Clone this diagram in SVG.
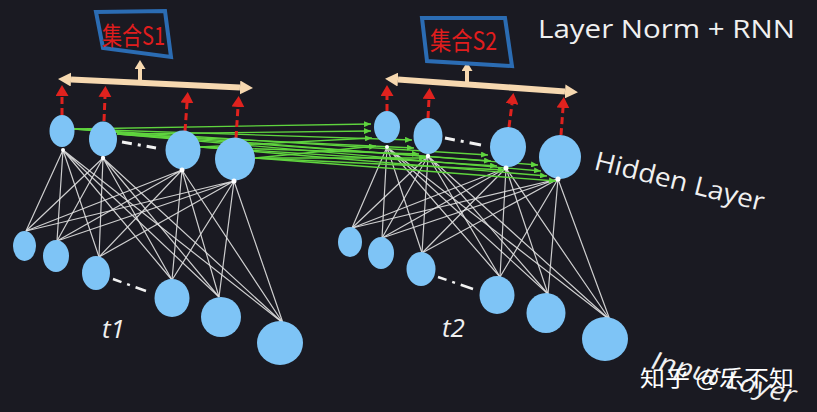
<svg xmlns="http://www.w3.org/2000/svg" width="817" height="412" viewBox="0 0 817 412">
<style>
.node{fill:#7ec4f6}
.w{stroke:#e2e2e2;stroke-width:1.2;fill:none;opacity:.9}
.g{stroke:#5fd43e;stroke-width:1.3;fill:none;marker-end:url(#ga)}
.r{stroke:#e0221e;stroke-width:3;stroke-dasharray:7 4;fill:none;marker-end:url(#ra)}
.bar{stroke:#f6d8b0;stroke-width:6;fill:none;marker-start:url(#ba);marker-end:url(#ba)}
.up{stroke:#f6d8b0;stroke-width:4;fill:none;marker-end:url(#ua)}
.dd{stroke:#f2f2f2;stroke-width:3;fill:none;stroke-dasharray:10 6 3 6 14}
.box{fill:#1a1a22;stroke:#2b6cb3;stroke-width:4}
.cn{font-family:"Noto Sans CJK SC",sans-serif;font-size:25px;fill:#e11d1d}
.lab{font-family:"Open Sans","DejaVu Sans",sans-serif;fill:#f0f0f0}
.dot{fill:#ffffff}
</style>
<defs>
<marker id="ba" markerUnits="userSpaceOnUse" markerWidth="13" markerHeight="14" refX="0" refY="7" orient="auto-start-reverse" viewBox="0 0 13 14"><path d="M0,0 L13,7 L0,14 z" fill="#f6d8b0"/></marker>
<marker id="ua" markerUnits="userSpaceOnUse" markerWidth="9" markerHeight="11" refX="0" refY="5.5" orient="auto" viewBox="0 0 9 11"><path d="M0,0 L9,5.5 L0,11 z" fill="#f6d8b0"/></marker>
<marker id="ra" markerUnits="userSpaceOnUse" markerWidth="11" markerHeight="13" refX="0" refY="6.5" orient="auto" viewBox="0 0 11 13"><path d="M0,0 L11,6.5 L0,13 z" fill="#e0221e"/></marker>
<marker id="ga" markerUnits="userSpaceOnUse" markerWidth="7" markerHeight="6" refX="7" refY="3" orient="auto" viewBox="0 0 7 6"><path d="M0,0 L7,3 L0,6 z" fill="#5fd43e"/></marker>
</defs>
<rect width="817" height="412" fill="#1a1a22"/>

<g id="connectors">
<g>
<path class="w" d="M26,231L63,150M57,241L63,150M99,257L63,150M172,280L63,150M219,297L63,150M283,323L63,150"/>
<path class="w" d="M26,231L103,158M57,241L103,158M99,257L103,158M172,280L103,158M219,297L103,158M283,323L103,158"/>
<path class="w" d="M26,231L182,170M57,241L182,170M99,257L182,170M172,280L182,170M219,297L182,170M283,323L182,170"/>
<path class="w" d="M26,231L234,181M57,241L234,181M99,257L234,181M172,280L234,181M219,297L234,181M283,323L234,181"/>
</g>
<g>
<path class="w" d="M352,228L387,147M382,238L387,147M422,253L387,147M500,277L387,147M548,294L387,147M610,320L387,147"/>
<path class="w" d="M352,228L428,156M382,238L428,156M422,253L428,156M500,277L428,156M548,294L428,156M610,320L428,156"/>
<path class="w" d="M352,228L506,168M382,238L506,168M422,253L506,168M500,277L506,168M548,294L506,168M610,320L506,168"/>
<path class="w" d="M352,228L558,179M382,238L558,179M422,253L558,179M500,277L558,179M548,294L558,179M610,320L558,179"/>
</g>
<g>
<path class="g" d="M74,129L371,124"/><path class="g" d="M74,129L412,140"/><path class="g" d="M74,129L488,155"/><path class="g" d="M74,129L538,165"/>
<path class="g" d="M117,134L371,131"/><path class="g" d="M117,134L414,148"/><path class="g" d="M117,134L491,161"/><path class="g" d="M117,134L541,171"/>
<path class="g" d="M200,147L372,138"/><path class="g" d="M200,147L419,154"/><path class="g" d="M200,147L497,166"/><path class="g" d="M200,147L547,176"/>
<path class="g" d="M255,158L376,146"/><path class="g" d="M255,158L426,158"/><path class="g" d="M255,158L505,170"/><path class="g" d="M255,158L556,181"/>
</g>
<path class="r" d="M62,115L62,96"/>
<path class="r" d="M104,121L105,97"/>
<path class="r" d="M185,131L187,103"/>
<path class="r" d="M236,138L238,107"/>
<path class="r" d="M387,111L387,96"/>
<path class="r" d="M428,118L429,99"/>
<path class="r" d="M509,127L512,104"/>
<path class="r" d="M561,135L563,108"/>
<path class="bar" d="M71,79.5L240,87.5"/>
<path class="up" d="M140,82L140,69"/>
<path class="bar" d="M398,79.6L565,91.4"/>
<path class="up" d="M467,83L467,71"/>
</g>

<g id="hidden-left">
<ellipse id="h1" class="node" cx="62" cy="131" rx="12.5" ry="16"/>
<ellipse id="h2" class="node" cx="103" cy="139" rx="14" ry="17.5"/>
<ellipse id="h3" class="node" cx="183" cy="150" rx="17.5" ry="19.5"/>
<ellipse id="h4" class="node" cx="235" cy="159" rx="20" ry="21.5"/>
<circle class="dot" cx="63" cy="150" r="2"/>
<circle class="dot" cx="103" cy="158" r="2.2"/>
<circle class="dot" cx="182" cy="170" r="2.5"/>
<circle class="dot" cx="234" cy="181" r="2.5"/>
<path class="dd" d="M122,142L156,148"/>
</g>

<g id="hidden-right">
<ellipse id="h1b" class="node" cx="387" cy="127" rx="13" ry="16"/>
<ellipse id="h2b" class="node" cx="428" cy="136" rx="14.5" ry="18"/>
<ellipse id="h3b" class="node" cx="508" cy="147" rx="18" ry="20"/>
<ellipse id="h4b" class="node" cx="560" cy="157" rx="21" ry="22"/>
<circle class="dot" cx="387" cy="147" r="2"/>
<circle class="dot" cx="428" cy="156" r="2.2"/>
<circle class="dot" cx="506" cy="168" r="2.5"/>
<circle class="dot" cx="558" cy="179" r="2.5"/>
<path class="dd" d="M445,138L481,145"/>
</g>

<g id="input-left">
<ellipse class="node" cx="24.5" cy="246" rx="11.5" ry="15"/>
<ellipse class="node" cx="56" cy="256" rx="13" ry="16"/>
<ellipse class="node" cx="96" cy="273" rx="14" ry="17"/>
<ellipse class="node" cx="172" cy="298" rx="17.5" ry="19"/>
<ellipse class="node" cx="221" cy="317" rx="20" ry="20"/>
<ellipse class="node" cx="280" cy="343" rx="23" ry="22"/>
<path class="dd" style="stroke-width:2.5;stroke-dasharray:9 6 3 6 14" d="M113,279L146,291"/>
</g>

<g id="input-right">
<ellipse class="node" cx="350" cy="242" rx="12" ry="15"/>
<ellipse class="node" cx="381" cy="253" rx="13" ry="16"/>
<ellipse class="node" cx="421" cy="269" rx="14.5" ry="17"/>
<ellipse class="node" cx="497" cy="295" rx="17.5" ry="19"/>
<ellipse class="node" cx="546" cy="313" rx="19.5" ry="20"/>
<ellipse class="node" cx="605" cy="339" rx="23" ry="22"/>
<path class="dd" style="stroke-width:2.5;stroke-dasharray:9 6 3 6 14" d="M438,277L473,289"/>
</g>

<g id="set-s1">
<polygon class="box" points="96,12 165,11 171,57 103,48"/>
<text class="cn" x="102" y="45" textLength="63" lengthAdjust="spacingAndGlyphs">集合S1</text>
</g>
<g id="set-s2">
<polygon class="box" points="422,18 505,18 512,66 427,61"/>
<text class="cn" x="430" y="50" textLength="67" lengthAdjust="spacingAndGlyphs">集合S2</text>
</g>

<g id="labels">
<text class="lab" x="538" y="38" font-size="25" textLength="257" lengthAdjust="spacingAndGlyphs">Layer Norm + RNN</text>
<text class="lab" x="593" y="169" font-size="26" textLength="174" lengthAdjust="spacingAndGlyphs" transform="rotate(14 593 169)">Hidden Layer</text>
<text class="lab" x="102" y="338" font-size="26" font-style="italic">t1</text>
<text class="lab" x="442" y="337" font-size="26" font-style="italic">t2</text>
<text class="lab" x="650" y="368" font-size="25" font-style="italic" textLength="148" lengthAdjust="spacingAndGlyphs" transform="rotate(14 650 368)">Input Layer</text>
<text x="640" y="386" font-family="Noto Sans CJK SC,sans-serif" font-size="22" fill="#ffffff" textLength="154" lengthAdjust="spacingAndGlyphs">知乎 @乐不知</text>
</g>
</svg>
